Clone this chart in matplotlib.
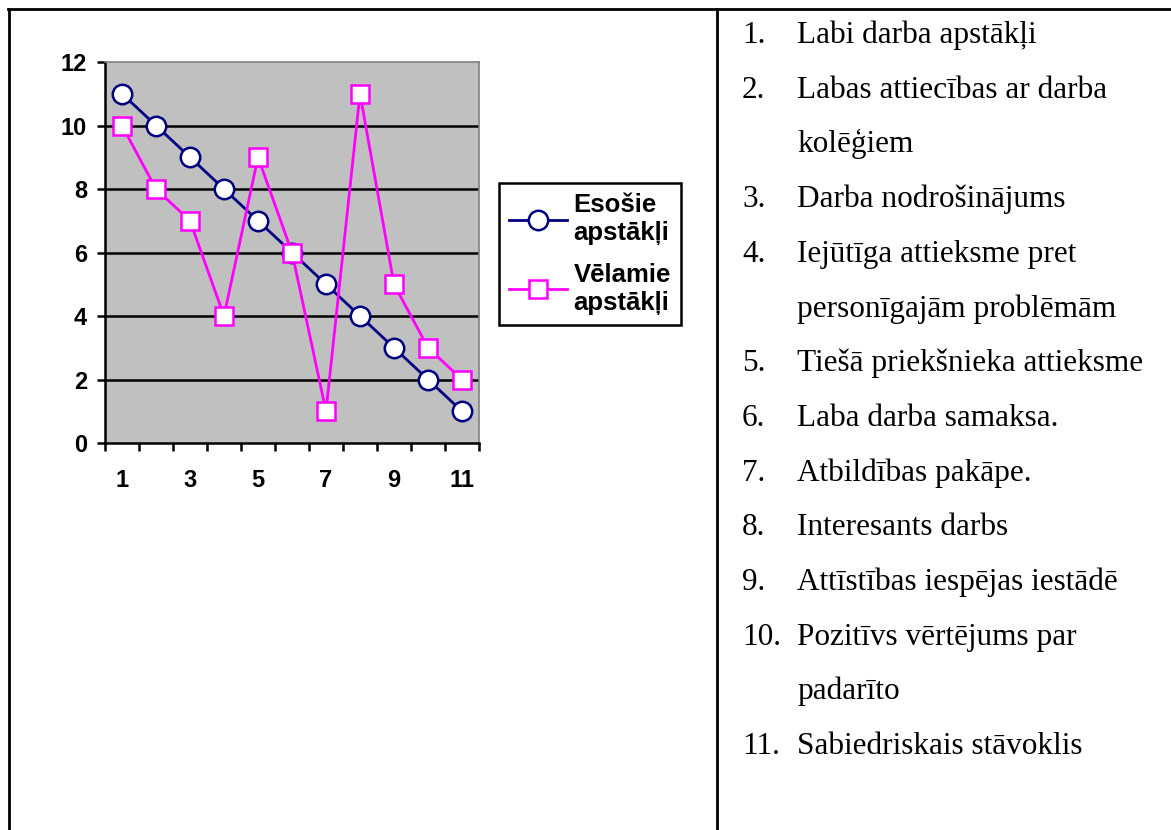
import matplotlib
matplotlib.use("Agg")
import matplotlib.pyplot as plt
from matplotlib.lines import Line2D
import numpy as np

# data
categories = list(range(1, 12))
esosie = [11, 10, 9, 8, 7, 6, 5, 4, 3, 2, 1]
velamie = [10, 8, 7, 4, 9, 6, 1, 11, 5, 3, 2]
series_names = ["Esošie\napstākļi", "Vēlamie\napstākļi"]
x_tick_labels = ["1", "3", "5", "7", "9", "11"]
y_ticks = [0, 2, 4, 6, 8, 10, 12]
items = [
    ["Labi darba apstākļi"],
    ["Labas attiecības ar darba", "kolēģiem"],
    ["Darba nodrošinājums"],
    ["Iejūtīga attieksme pret", "personīgajām problēmām"],
    ["Tiešā priekšnieka attieksme"],
    ["Laba darba samaksa."],
    ["Atbildības pakāpe."],
    ["Interesants darbs"],
    ["Attīstības iespējas iestādē"],
    ["Pozitīvs vērtējums par", "padarīto"],
    ["Sabiedriskais stāvoklis"],
]

W, H = 1171, 830
fig = plt.figure(figsize=(W / 100, H / 100), dpi=100)

# table borders
for xs, ys in [((8 / W, 1), (1 - 9.5 / H, 1 - 9.5 / H)),
               ((8.5 / W, 8.5 / W), (0, 1 - 9.5 / H)),
               ((717 / W, 717 / W), (0, 1 - 9.5 / H))]:
    fig.add_artist(Line2D(xs, ys, color="black", lw=2, transform=fig.transFigure))

ax = fig.add_axes([105 / W, 1 - 443 / H, (479 - 105) / W, (443 - 62) / H])
ax.set_facecolor("#c0c0c0")
ax.set_xlim(0.5, 11.5)
ax.set_ylim(0, 12)

for y in y_ticks[1:-1]:
    ax.axhline(y, color="black", lw=1.8, zorder=1)

l1, = ax.plot(categories, esosie, color="#000080", lw=2, marker="o", ms=14,
              mfc="white", mec="#000080", mew=1.8, zorder=3)
l2, = ax.plot(categories, velamie, color="#ff00ff", lw=2, marker="s", ms=13,
              mfc="white", mec="#ff00ff", mew=1.8, zorder=3)

for s in ["top", "right"]:
    ax.spines[s].set_color("#808080")
    ax.spines[s].set_linewidth(1.2)
for s in ["left", "bottom"]:
    ax.spines[s].set_linewidth(1.8)

ax.set_yticks(y_ticks)
ax.set_xticks(categories[::2])
ax.set_xticklabels(x_tick_labels)
ax.set_xticks(np.arange(0.5, 12, 1), minor=True)
ax.tick_params(axis="y", length=6, width=1.8, pad=7, labelsize=17)
ax.tick_params(axis="x", which="major", length=0, pad=19, labelsize=17)
ax.tick_params(axis="x", which="minor", length=6, width=1.8)
for lab in ax.get_xticklabels() + ax.get_yticklabels():
    lab.set_fontweight("bold")
    lab.set_fontfamily("Liberation Sans")

leg = fig.legend([l1, l2], series_names, loc="upper left",
                 bbox_to_anchor=(499 / W, 1 - 183 / H), borderaxespad=0,
                 prop={"family": "Liberation Sans", "weight": "bold", "size": 18.5},
                 handlelength=2.25, handletextpad=0.25, labelspacing=0.7,
                 fancybox=False, edgecolor="black", framealpha=1,
                 borderpad=0.4)
leg.get_frame().set_linewidth(1.8)

# numbered list on the right
row_pitch = 54.7
row = 0
for i, lines in enumerate(items):
    y0 = 43 + row * row_pitch
    fig.text(742 / W, 1 - y0 / H, f"{i + 1}.", family="Liberation Serif",
             fontsize=22.5, va="baseline", ha="left")
    for line in lines:
        y = 43 + row * row_pitch
        fig.text(797 / W, 1 - y / H, line, family="Liberation Serif",
                 fontsize=22.5, va="baseline", ha="left")
        row += 1

fig.savefig("out.png", dpi=100)
